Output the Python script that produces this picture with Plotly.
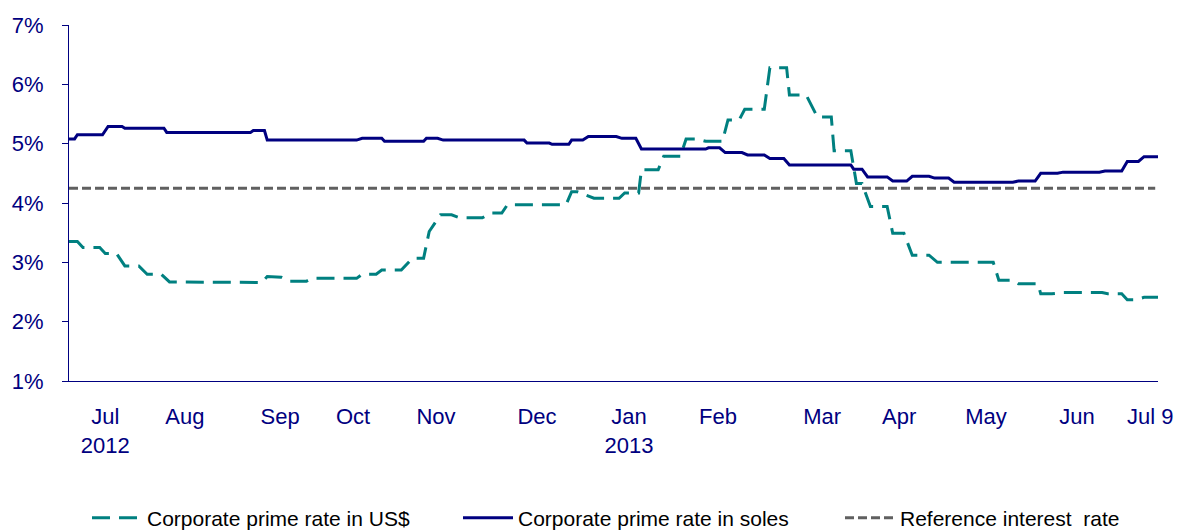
import plotly.graph_objects as go

# ---- data ----
usd_dates = ["2012-06-14", "2012-06-17", "2012-06-19", "2012-06-25", "2012-06-27", "2012-07-01",
             "2012-07-04", "2012-07-09", "2012-07-12", "2012-07-17", "2012-07-20", "2012-08-18",
             "2012-08-22", "2012-08-24", "2012-08-29", "2012-09-01", "2012-09-07", "2012-09-09",
             "2012-09-25", "2012-09-27", "2012-10-02", "2012-10-04", "2012-10-11", "2012-10-15",
             "2012-10-19", "2012-10-21", "2012-10-25", "2012-10-29", "2012-11-01", "2012-11-09",
             "2012-11-12", "2012-11-16", "2012-11-18", "2012-12-09", "2012-12-11", "2012-12-13",
             "2012-12-16", "2012-12-19", "2012-12-28", "2012-12-30", "2013-01-04", "2013-01-05",
             "2013-01-11", "2013-01-13", "2013-01-19", "2013-01-21", "2013-01-25", "2013-01-28",
             "2013-02-03", "2013-02-05", "2013-02-09", "2013-02-11", "2013-02-18", "2013-02-20",
             "2013-02-26", "2013-02-27", "2013-03-05", "2013-03-09", "2013-03-14", "2013-03-15",
             "2013-03-21", "2013-03-23", "2013-03-25", "2013-03-28", "2013-04-03", "2013-04-05",
             "2013-04-09", "2013-04-12", "2013-04-18", "2013-04-21", "2013-05-11", "2013-05-13",
             "2013-05-18", "2013-05-20", "2013-05-27", "2013-05-28", "2013-06-01", "2013-06-05",
             "2013-06-19", "2013-06-21", "2013-06-26", "2013-06-28", "2013-07-01", "2013-07-04",
             "2013-07-09"]
usd_values = [3.35, 3.35, 3.25, 3.25, 3.15, 3.15,
              2.94, 2.94, 2.80, 2.80, 2.67, 2.67,
              2.66, 2.76, 2.75, 2.68, 2.68, 2.73,
              2.73, 2.80, 2.80, 2.87, 2.87, 3.07,
              3.07, 3.52, 3.80, 3.80, 3.75, 3.75,
              3.83, 3.83, 3.97, 3.97, 4.19, 4.19,
              4.13, 4.08, 4.08, 4.17, 4.17, 4.56,
              4.56, 4.79, 4.79, 5.08, 5.08, 5.04,
              5.04, 5.40, 5.40, 5.58, 5.58, 6.28,
              6.28, 5.82, 5.82, 5.45, 5.45, 4.88,
              4.88, 4.33, 4.33, 3.94, 3.94, 3.49,
              3.49, 3.12, 3.12, 3.00, 3.00, 2.70,
              2.70, 2.64, 2.64, 2.47, 2.47, 2.49,
              2.49, 2.47, 2.47, 2.37, 2.37, 2.41,
              2.41]

soles_dates = ["2012-06-14", "2012-06-16", "2012-06-17", "2012-06-26", "2012-06-28", "2012-07-03",
               "2012-07-04", "2012-07-18", "2012-07-19", "2012-08-18", "2012-08-19", "2012-08-23",
               "2012-08-24", "2012-09-25", "2012-09-27", "2012-10-04", "2012-10-05", "2012-10-19",
               "2012-10-20", "2012-10-24", "2012-10-26", "2012-11-24", "2012-11-25", "2012-12-03",
               "2012-12-04", "2012-12-10", "2012-12-11", "2012-12-15", "2012-12-17", "2012-12-27",
               "2012-12-29", "2013-01-03", "2013-01-05", "2013-01-28", "2013-01-29", "2013-02-02",
               "2013-02-04", "2013-02-10", "2013-02-12", "2013-02-18", "2013-02-20", "2013-02-25",
               "2013-02-27", "2013-03-21", "2013-03-22", "2013-03-25", "2013-03-27", "2013-04-03",
               "2013-04-05", "2013-04-10", "2013-04-12", "2013-04-18", "2013-04-20", "2013-04-25",
               "2013-04-27", "2013-05-18", "2013-05-20", "2013-05-26", "2013-05-28", "2013-06-03",
               "2013-06-05", "2013-06-18", "2013-06-20", "2013-06-26", "2013-06-28", "2013-07-02",
               "2013-07-04", "2013-07-09"]
soles_values = [5.08, 5.08, 5.15, 5.15, 5.29, 5.29,
                5.26, 5.26, 5.19, 5.19, 5.22, 5.22,
                5.06, 5.06, 5.09, 5.09, 5.04, 5.04,
                5.09, 5.09, 5.06, 5.06, 5.01, 5.01,
                4.99, 4.99, 5.06, 5.06, 5.12, 5.12,
                5.09, 5.09, 4.91, 4.91, 4.93, 4.93,
                4.85, 4.85, 4.81, 4.81, 4.75, 4.75,
                4.64, 4.64, 4.57, 4.57, 4.44, 4.44,
                4.37, 4.37, 4.45, 4.45, 4.42, 4.42,
                4.35, 4.35, 4.37, 4.37, 4.50, 4.50,
                4.52, 4.52, 4.54, 4.54, 4.70, 4.70,
                4.78, 4.78]

ref_dates = ["2012-06-14", "2013-07-08"]
ref_values = [4.25, 4.25]

tick_dates = ["2012-06-27", "2012-07-25 12:00", "2012-08-28 14:00", "2012-09-23 17:00",
              "2012-10-23 10:00", "2012-11-28 14:00", "2012-12-31 14:00", "2013-02-01 10:00",
              "2013-03-10 17:00", "2013-04-07 07:00", "2013-05-08 10:00", "2013-06-10",
              "2013-07-06 05:00"]
tick_text = ["Jul<br>2012", "Aug", "Sep", "Oct", "Nov", "Dec", "Jan<br>2013", "Feb",
             "Mar", "Apr", "May", "Jun", "Jul 9"]

y_ticks = [1, 2, 3, 4, 5, 6, 7]
y_tick_text = ["1%", "2%", "3%", "4%", "5%", "6%", "7%"]

# ---- figure ----
NAVY = "#000080"
TEAL = "#008080"
GREY = "#606060"
FONT = "Liberation Sans, Arial, sans-serif"

# the page body adds an 8px margin, so the figure is drawn 8px smaller
W, H = 1175, 522

fig = go.Figure()
fig.add_trace(go.Scatter(x=usd_dates, y=usd_values, mode="lines",
                         name="Corporate prime rate in US$", legend="legend",
                         line=dict(color=TEAL, width=3, dash="18px,9px")))
fig.add_trace(go.Scatter(x=soles_dates, y=soles_values, mode="lines",
                         name="Corporate prime rate in soles", legend="legend2",
                         line=dict(color=NAVY, width=3)))
fig.add_trace(go.Scatter(x=ref_dates, y=ref_values, mode="lines",
                         name="Reference interest  rate", legend="legend3",
                         line=dict(color=GREY, width=3, dash="9px,4px")))


def legend_box(x_px):
    return dict(orientation="h", xref="container", yref="container",
                x=x_px / W, xanchor="left",
                y=12 / H, yanchor="middle",
                font=dict(family=FONT, size=21, color="black"),
                itemwidth=50, bgcolor="rgba(0,0,0,0)")


fig.update_layout(
    width=W, height=H,
    margin=dict(l=61, r=25, t=17, b=149, autoexpand=False),
    paper_bgcolor="white", plot_bgcolor="white",
    font=dict(family=FONT, size=22, color=NAVY),
    showlegend=True,
    legend=legend_box(79),
    legend2=legend_box(450),
    legend3=legend_box(832),
    xaxis=dict(type="date", range=["2012-06-14", "2013-07-09"],
               tickmode="array", tickvals=tick_dates, ticktext=tick_text,
               showgrid=False, zeroline=False, automargin=False,
               showline=True, linecolor=NAVY, linewidth=1,
               ticks="", ticklabelstandoff=16,
               tickfont=dict(family=FONT, size=22, color=NAVY)),
    yaxis=dict(range=[1, 7], tickmode="array", tickvals=y_ticks, ticktext=y_tick_text,
               showgrid=False, zeroline=False, automargin=False,
               showline=True, linecolor=NAVY, linewidth=1,
               ticks="outside", ticklen=6, tickcolor=NAVY,
               ticklabelstandoff=14,
               tickfont=dict(family=FONT, size=22, color=NAVY)),
)

fig.write_html("out.html")
